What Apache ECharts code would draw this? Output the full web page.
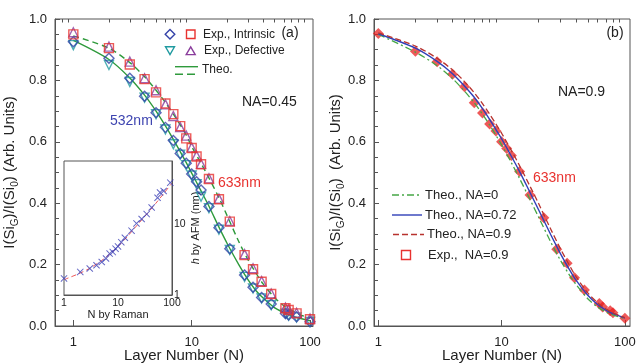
<!DOCTYPE html>
<html>
<head>
<meta charset="utf-8">
<script src="https://cdn.jsdelivr.net/npm/echarts@6/dist/echarts.min.js"></script>
<style>
  html, body { margin: 0; padding: 0; background: #fff; }
  #chart { width: 637px; height: 363px; }
</style>
</head>
<body>
<div id="chart"></div>
<script>
// panel (a): NA=0.45, 532 nm / 633 nm
const nExpA = [1, 2, 3, 4, 5, 6, 7, 8, 9, 10, 11, 12, 14, 17, 21, 28, 33, 39, 47, 62, 66, 77, 100];
const intr532 = [0.926, 0.872, 0.807, 0.748, 0.695, 0.647, 0.604, 0.562, 0.530, 0.495, 0.470, 0.443, 0.389, 0.320, 0.252, 0.166, 0.126, 0.093, 0.072, 0.041, 0.036, 0.030, 0.014];
const def532 = [0.915, 0.850, 0.795, 0.744, 0.690, 0.640, 0.592, 0.558, 0.524, 0.490, 0.462, 0.421, 0.384, 0.314, 0.248, 0.160, 0.122, 0.090, 0.068, 0.040, 0.034, 0.028, 0.013];
const intr633 = [0.950, 0.905, 0.852, 0.804, 0.761, 0.725, 0.690, 0.651, 0.611, 0.580, 0.552, 0.527, 0.479, 0.413, 0.340, 0.231, 0.185, 0.144, 0.104, 0.058, 0.052, 0.041, 0.022];
const def633 = [0.957, 0.910, 0.861, 0.807, 0.768, 0.722, 0.684, 0.648, 0.620, 0.582, 0.555, 0.528, 0.481, 0.415, 0.342, 0.234, 0.188, 0.146, 0.106, 0.060, 0.054, 0.043, 0.024];

const nTheo = [1, 2, 3, 4, 5, 6, 7, 8, 9, 10, 12, 14, 17, 20, 25, 30, 35, 40, 50, 60, 70, 80, 100];
const theo532 = [0.930, 0.868, 0.808, 0.752, 0.700, 0.652, 0.608, 0.568, 0.532, 0.498, 0.440, 0.390, 0.322, 0.268, 0.200, 0.150, 0.115, 0.092, 0.060, 0.044, 0.033, 0.026, 0.017];
const theo633 = [0.945, 0.905, 0.858, 0.812, 0.768, 0.728, 0.690, 0.655, 0.622, 0.585, 0.530, 0.482, 0.418, 0.358, 0.275, 0.215, 0.172, 0.138, 0.093, 0.066, 0.050, 0.039, 0.025];

// panel (b): 633 nm, different NA
const nExpB = [1, 2, 3, 4, 5, 6, 7, 8, 9, 10, 11, 12, 14, 17, 22, 28, 34, 39, 47, 62, 66, 76, 80, 100];
const expB = [0.953, 0.895, 0.861, 0.820, 0.779, 0.727, 0.694, 0.658, 0.635, 0.600, 0.578, 0.555, 0.503, 0.427, 0.353, 0.250, 0.204, 0.157, 0.117, 0.073, 0.062, 0.050, 0.043, 0.025];
const theoNA0 = [0.950, 0.892, 0.848, 0.806, 0.765, 0.727, 0.690, 0.655, 0.621, 0.590, 0.532, 0.480, 0.412, 0.354, 0.274, 0.214, 0.170, 0.136, 0.089, 0.062, 0.046, 0.036, 0.024];
const theoNA072 = [0.952, 0.905, 0.862, 0.822, 0.782, 0.745, 0.708, 0.673, 0.640, 0.610, 0.553, 0.503, 0.435, 0.378, 0.298, 0.236, 0.188, 0.150, 0.100, 0.070, 0.052, 0.040, 0.026];
const theoNA09 = [0.955, 0.912, 0.872, 0.834, 0.796, 0.760, 0.724, 0.690, 0.658, 0.628, 0.572, 0.522, 0.455, 0.398, 0.316, 0.252, 0.202, 0.162, 0.108, 0.076, 0.056, 0.043, 0.027];

// inset: h by AFM vs N by Raman
const nInset = [1, 2, 3, 4, 5, 6, 7, 8, 9, 10, 11.5, 13.4, 17.8, 22, 27.4, 34, 42, 54, 60, 70, 93];
const hInset = [1.72, 2.13, 2.38, 2.65, 2.94, 3.3, 3.87, 4.07, 4.55, 4.9, 5.63, 6.5, 8.2, 10.4, 12.0, 14.1, 17.5, 24, 28.5, 30, 39.4];
const nFit = [1, 2, 3, 5, 7, 10, 15, 20, 30, 50, 70, 100];
const hFit = [1.65, 2.05, 2.4, 3.1, 3.8, 4.9, 6.8, 8.8, 12.6, 20, 27.5, 39];

// ticks
const majorX = [1, 10, 100];
const minorXA = [0.8, 0.9, 2, 3, 4, 5, 6, 7, 8, 9, 20, 30, 40, 50, 60, 70, 80, 90];
const minorXB = [2, 3, 4, 5, 6, 7, 8, 9, 20, 30, 40, 50, 60, 70, 80, 90];
const majorInsetY = [1, 10];
const minorInsetY = [2, 3, 4, 5, 6, 7, 8, 9, 20, 30, 40, 50, 60, 70, 80];

const FONT = '"Liberation Sans", Arial, Helvetica, sans-serif';
const AX = '#555';
const TXT = '#222';
const BLUE = '#3442a8';
const TEAL = '#1f9aa0';
const RED = '#e8322f';
const PURPLE = '#8a3d9c';
const GREEN = '#2f9a3c';
const DKRED = '#b8322e';
const LBLUE = '#3040b8';
const LGREEN = '#46a646';
const XBLUE = '#3a3fb5';

const pairs = (xs, ys) => xs.map((x, i) => [x, ys[i]]);

function xPair(gridIndex, min, max, major, minor, o) {
  return [
    {
      gridIndex, type: 'log', logBase: 10, min, max,
      axisLine: { lineStyle: { color: AX, width: 1 } },
      axisTick: { inside: true, length: o.major, customValues: major, lineStyle: { color: AX } },
      axisLabel: { customValues: major, margin: o.margin, fontSize: o.font, color: TXT, fontFamily: FONT },
      splitLine: { show: false },
      name: o.name, nameLocation: 'middle', nameGap: o.gap, nameMoveOverlap: false,
      nameTextStyle: { fontSize: o.nameFont, color: TXT, fontFamily: FONT }
    },
    {
      gridIndex, type: 'log', logBase: 10, min, max,
      axisLine: { show: false },
      axisTick: { inside: true, length: o.minor, customValues: minor, lineStyle: { color: AX } },
      axisLabel: { show: false },
      splitLine: { show: false }
    }
  ];
}

function mainY(gridIndex, name, gap) {
  return {
    gridIndex, type: 'value', min: 0, max: 1, interval: 0.2,
    axisLine: { lineStyle: { color: AX } },
    axisTick: { inside: true, length: 5, lineStyle: { color: AX } },
    minorTick: { show: true, splitNumber: 4, length: 4, lineStyle: { color: AX } },
    axisLabel: { formatter: v => v.toFixed(1), fontSize: 13, color: TXT, margin: 8, fontFamily: FONT },
    splitLine: { show: false },
    name, nameLocation: 'middle', nameGap: gap, nameMoveOverlap: false,
    nameTextStyle: {
      fontSize: 15, color: TXT, fontFamily: FONT, lineHeight: 20,
      rich: { s: { fontSize: 10, lineHeight: 10, verticalAlign: 'bottom', color: TXT, fontFamily: FONT } }
    }
  };
}

const openSym = (color) => ({ color: 'rgba(0,0,0,0)', borderColor: color, borderWidth: 1.4 });

function txt(x, y, text, size, color, align) {
  return {
    type: 'text', x, y, silent: true,
    style: {
      text, font: size + 'px ' + FONT, fill: color || TXT,
      textAlign: align || 'left', textVerticalAlign: 'middle',
      align: align || 'left', verticalAlign: 'middle'
    }
  };
}
const seg = (x1, y1, x2, y2, color, dash) => ({
  type: 'line', silent: true, shape: { x1, y1, x2, y2 },
  style: { stroke: color, lineWidth: 1.4, lineDash: dash || null }
});
const poly = (points, color) => ({
  type: 'polygon', silent: true, shape: { points },
  style: { fill: 'none', stroke: color, lineWidth: 1.4 }
});
const box = (x, y, w, h, color) => ({
  type: 'rect', silent: true, shape: { x, y, width: w, height: h },
  style: { fill: 'none', stroke: color, lineWidth: 1.4 }
});

const chart = echarts.init(document.getElementById('chart'), null, { renderer: 'canvas' });

const gridBase = { show: true, borderColor: AX, borderWidth: 1, outerBoundsMode: 'none', containLabel: false };

const option = {
  animation: false,
  backgroundColor: '#fff',
  textStyle: { fontFamily: FONT },
  grid: [
    { ...gridBase, left: 55, top: 19, width: 258, height: 307, backgroundColor: 'transparent' },
    { ...gridBase, left: 374, top: 19, width: 256, height: 307, backgroundColor: 'transparent' },
    { ...gridBase, left: 64, top: 161, width: 108, height: 134, backgroundColor: '#fff', z: 5 }
  ],
  xAxis: [
    ...xPair(0, 0.70, 106, majorX, minorXA, { major: 6, minor: 3.5, margin: 10, font: 13, name: 'Layer Number (N)', gap: 22, nameFont: 15 }),
    ...xPair(1, 0.923, 110, majorX, minorXB, { major: 6, minor: 3.5, margin: 10, font: 13, name: 'Layer Number (N)', gap: 22, nameFont: 15 }),
    ...xPair(2, 1, 100, majorX, minorXB, { major: 4, minor: 2.5, margin: 3, font: 10.5, name: 'N by Raman', gap: 14, nameFont: 11 })
  ],
  yAxis: [
    mainY(0, 'I(Si{s|G})/I(Si{s|0}) (Arb. Units)', 35),
    mainY(1, 'I(Si{s|G})/I(Si{s|0})  (Arb. Units)', 28),
    {
      gridIndex: 2, type: 'log', logBase: 10, min: 1, max: 80, position: 'right',
      axisLine: { lineStyle: { color: AX } },
      axisTick: { inside: true, length: 4, customValues: majorInsetY, lineStyle: { color: AX } },
      axisLabel: { customValues: majorInsetY, margin: 2, fontSize: 10.5, color: TXT, fontFamily: FONT },
      splitLine: { show: false },
      name: '{i|h} by AFM (nm)', nameLocation: 'middle', nameRotate: 90, nameGap: 18, nameMoveOverlap: false,
      nameTextStyle: { fontSize: 11, color: TXT, fontFamily: FONT, rich: { i: { fontStyle: 'italic', fontSize: 11, color: TXT, fontFamily: FONT } } }
    },
    {
      gridIndex: 2, type: 'log', logBase: 10, min: 1, max: 80, position: 'right',
      axisLine: { show: false },
      axisTick: { inside: true, length: 2.5, customValues: minorInsetY, lineStyle: { color: AX } },
      axisLabel: { show: false },
      splitLine: { show: false }
    }
  ],
  series: [
    // (a) theory
    { name: 'Theo. 532', type: 'line', xAxisIndex: 0, yAxisIndex: 0, data: pairs(nTheo, theo532), smooth: 0.3, showSymbol: false, lineStyle: { color: GREEN, width: 1.4 }, z: 2 },
    { name: 'Theo. 633', type: 'line', xAxisIndex: 0, yAxisIndex: 0, data: pairs(nTheo, theo633), smooth: 0.3, showSymbol: false, lineStyle: { color: GREEN, width: 1.4, type: [6, 4] }, z: 2 },
    // (a) experiment
    { name: 'Exp., Defective 532', type: 'scatter', xAxisIndex: 0, yAxisIndex: 0, data: pairs(nExpA, def532), symbol: 'triangle', symbolRotate: 180, symbolSize: 9, itemStyle: openSym(TEAL), z: 3 },
    { name: 'Exp., Intrinsic 532', type: 'scatter', xAxisIndex: 0, yAxisIndex: 0, data: pairs(nExpA, intr532), symbol: 'diamond', symbolSize: 10, itemStyle: openSym(BLUE), z: 3 },
    { name: 'Exp., Defective 633', type: 'scatter', xAxisIndex: 0, yAxisIndex: 0, data: pairs(nExpA, def633), symbol: 'triangle', symbolSize: 9, itemStyle: openSym(PURPLE), z: 3 },
    { name: 'Exp., Intrinsic 633', type: 'scatter', xAxisIndex: 0, yAxisIndex: 0, data: pairs(nExpA, intr633), symbol: 'rect', symbolSize: 9, itemStyle: openSym(RED), z: 3 },
    // (b)
    { name: 'Exp., NA=0.9', type: 'scatter', xAxisIndex: 2, yAxisIndex: 1, data: pairs(nExpB, expB), symbol: 'diamond', symbolSize: 11, itemStyle: { color: 'rgba(232,30,30,0.92)' }, z: 2 },
    { name: 'Theo., NA=0', type: 'line', xAxisIndex: 2, yAxisIndex: 1, data: pairs(nTheo, theoNA0), smooth: 0.3, showSymbol: false, lineStyle: { color: LGREEN, width: 1.3, type: [7, 3, 2, 3] }, z: 3 },
    { name: 'Theo., NA=0.72', type: 'line', xAxisIndex: 2, yAxisIndex: 1, data: pairs(nTheo, theoNA072), smooth: 0.3, showSymbol: false, lineStyle: { color: LBLUE, width: 1.4 }, z: 3 },
    { name: 'Theo., NA=0.9', type: 'line', xAxisIndex: 2, yAxisIndex: 1, data: pairs(nTheo, theoNA09), smooth: 0.3, showSymbol: false, lineStyle: { color: DKRED, width: 1.3, type: [6, 3] }, z: 3 },
    // inset
    { name: 'Fitting', type: 'line', xAxisIndex: 4, yAxisIndex: 2, data: pairs(nFit, hFit), smooth: 0.3, showSymbol: false, lineStyle: { color: '#f05a5a', width: 1, type: [5, 3] }, z: 6 },
    { name: 'Exp.', type: 'scatter', xAxisIndex: 4, yAxisIndex: 2, data: pairs(nInset, hInset), symbol: 'path://M0,1L1,0L5,4L9,0L10,1L6,5L10,9L9,10L5,6L1,10L0,9L4,5Z', symbolSize: 7, itemStyle: { color: XBLUE }, z: 7 }
  ],
  graphic: [
    // legend (a)
    poly([[170, 29.5], [174.8, 34.3], [170, 39.1], [165.2, 34.3]], BLUE),
    box(186.5, 30, 8.5, 8.5, RED),
    txt(203, 34.3, 'Exp., Intrinsic', 12),
    poly([[165.5, 46.8], [174.5, 46.8], [170, 54.6]], TEAL),
    poly([[186.2, 54.6], [195.2, 54.6], [190.7, 46.8]], PURPLE),
    txt(204, 50.7, 'Exp., Defective', 12),
    seg(175, 66.7, 198, 66.7, GREEN),
    seg(175, 74.3, 198, 74.3, GREEN, [8, 4]),
    txt(202, 70, 'Theo.', 12),
    txt(290, 33, '(a)', 14, TXT, 'center'),
    txt(242, 102, 'NA=0.45', 14),
    txt(110, 121, '532nm', 14, '#3d44b0'),
    txt(218, 183, '633nm', 14, RED),
    // inset legend
    seg(68.5, 178.5, 75.5, 185.5, XBLUE),
    seg(68.5, 185.5, 75.5, 178.5, XBLUE),
    txt(85, 182, 'Exp.', 11),
    seg(69, 195, 81, 195, '#f05a5a', [5, 3]),
    txt(85, 195, 'Fitting', 11),
    // legend (b)
    seg(392, 195, 422, 195, LGREEN, [7, 3, 2, 3]),
    txt(425, 195, 'Theo., NA=0', 13),
    seg(392, 215, 422, 215, LBLUE),
    txt(425, 215, 'Theo., NA=0.72', 13),
    seg(393, 234.5, 424, 234.5, DKRED, [6, 3]),
    txt(427, 234.5, 'Theo., NA=0.9', 13),
    box(401.5, 250.5, 9, 9, RED),
    txt(428, 255, 'Exp.,  NA=0.9', 13),
    txt(615, 33, '(b)', 14, TXT, 'center'),
    txt(558, 92, 'NA=0.9', 14),
    txt(533, 178, '633nm', 14, RED)
  ]
};

chart.setOption(option);
</script>
</body>
</html>
